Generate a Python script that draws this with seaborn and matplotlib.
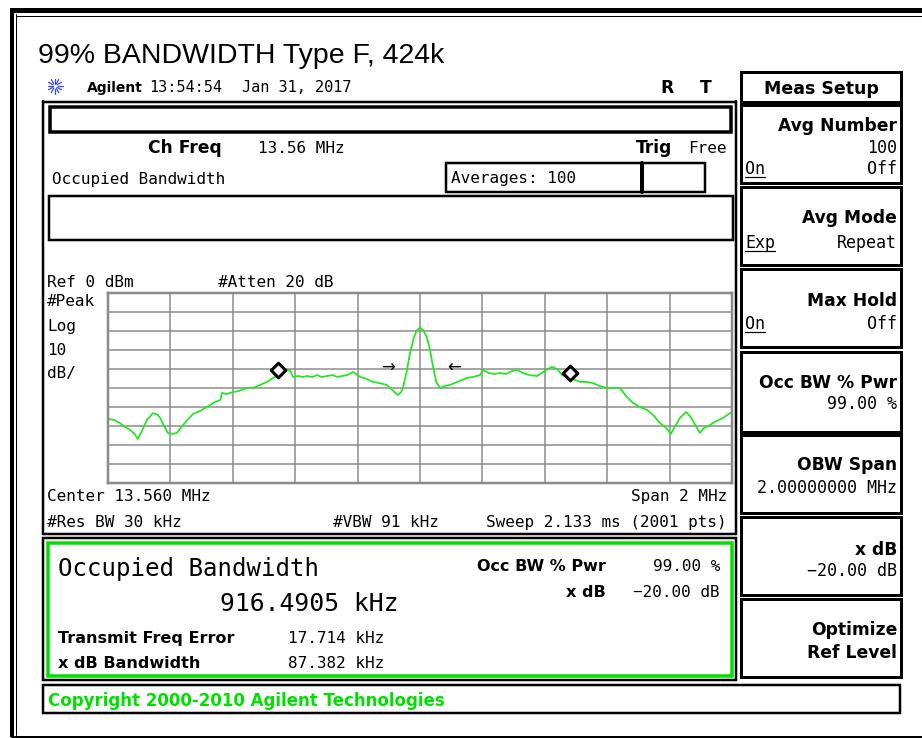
import numpy as np
import seaborn as sns
import matplotlib.pyplot as plt
from matplotlib.patches import Rectangle

# -----------------------------
# Trace
# offset from 13.56 MHz (kHz) and level (dBm)
# -----------------------------
freq_khz = [-1000, -980, -962, -945, -929, -915, -904, -890, -875, -856, -840, -833,
            -820, -808, -795, -779, -760, -745, -728, -705, -683, -657, -640, -635,
            -620, -599, -580, -554, -535, -513, -490, -471, -450, -440, -426, -415,
            -407, -390, -375, -362, -345, -330, -315, -298, -280, -265, -250, -234,
            -215, -200, -192, -170, -151, -130, -106, -96, -85, -71, -60, -54,
            -43, -32, -20, -10, 0, 10, 22, 32, 42, 52, 64, 80,
            96, 120, 151, 170, 192, 202, 220, 240, 256, 275, 295, 311,
            330, 350, 375, 395, 410, 423, 440, 455, 471, 490, 513, 535,
            554, 575, 599, 620, 641, 660, 683, 705, 728, 750, 769, 790,
            804, 820, 833, 853, 865, 875, 897, 910, 929, 950, 971, 985, 1000]
level_dbm = [-66.3, -66.8, -68.4, -70.5, -72.1, -74.2, -76.8, -72.1, -66.8, -63.2, -64.2, -65.8,
             -70.0, -73.7, -74.2, -73.7, -69.5, -66.8, -63.7, -62.1, -60.0, -57.4, -56.3, -52.6,
             -53.2, -52.1, -51.6, -50.0, -50.0, -48.4, -46.8, -44.7, -43.2, -42.1, -40.5, -41.1,
             -44.2, -43.7, -44.2, -43.7, -44.2, -43.2, -44.2, -43.7, -43.2, -44.2, -43.7, -43.2,
             -41.6, -43.2, -44.2, -45.3, -46.8, -47.4, -48.4, -50.0, -51.6, -53.7, -52.1, -49.5,
             -41.6, -31.6, -23.7, -19.5, -18.4, -19.5, -23.2, -30.0, -38.9, -46.8, -50.0, -48.9,
             -48.4, -46.8, -44.7, -44.2, -43.2, -40.5, -42.1, -42.6, -42.1, -42.6, -41.1, -40.5,
             -42.1, -43.2, -43.7, -41.6, -40.0, -38.9, -40.0, -43.2, -44.2, -45.3, -46.8, -46.8,
             -47.4, -48.9, -50.0, -50.0, -50.0, -54.2, -57.9, -60.0, -61.6, -64.7, -68.4, -71.1,
             -74.2, -69.5, -65.8, -62.6, -64.7, -67.4, -73.7, -71.1, -69.5, -67.4, -65.8, -64.2, -62.6]

obw_marker_khz = [-455, 481]
obw_marker_dbm = [-40.5, -42.1]
xdb_arrow_khz = [-104, 109]
xdb_arrow_dbm = [-39.5, -39.5]
xdb_arrow_text = ["\u2192", "\u2190"]

TRACE = "#27e627"
GREEN = "#00e000"
GRIDC = "#8a8a8a"
MONO = "DejaVu Sans Mono"
BOLD = "DejaVu Sans"
PX = 0.72  # points per pixel at 100 dpi

sns.set_style("white")
plt.rcParams["font.family"] = ["DejaVu Sans"]
plt.rcParams["text.color"] = "black"

fig = plt.figure(figsize=(9.22, 7.38), dpi=100)
bg = fig.add_axes([0, 0, 1, 1])
bg.set_xlim(0, 922)
bg.set_ylim(738, 0)
bg.axis("off")


def box(x0, y0, x1, y1, lw=2.5, color="black"):
    bg.add_patch(Rectangle((x0, y0), x1 - x0, y1 - y0, fill=False,
                           lw=lw * PX, ec=color, joinstyle="miter"))


def mono(x, y, s, size=11.5, ha="left", **kw):
    bg.text(x, y, s, family=MONO, fontsize=size, ha=ha, va="baseline", **kw)


def bold(x, y, s, size=12.3, ha="left", **kw):
    bg.text(x, y, s, family=BOLD, fontweight="bold", fontsize=size,
            ha=ha, va="baseline", **kw)


# outer frame
bg.plot([12, 12], [8, 737], color="black", lw=4 * PX, solid_capstyle="butt")
bg.plot([10, 922], [10, 10], color="black", lw=5 * PX, solid_capstyle="butt")
bg.plot([16, 16], [14, 735], color="black", lw=1 * PX)
bg.plot([16, 922], [15.5, 15.5], color="black", lw=1 * PX)
bg.plot([12, 922], [736.5, 736.5], color="black", lw=2 * PX)

# title
bg.text(38, 63, "99% BANDWIDTH Type F, 424k", family="Liberation Sans",
        fontsize=20.5, ha="left", va="baseline")

# agilent logo + status line
cx, cy = 55, 86
for ang in np.linspace(0, 2 * np.pi, 12, endpoint=False):
    bg.plot([cx + 2.5 * np.cos(ang), cx + 7.5 * np.cos(ang)],
            [cy + 2.5 * np.sin(ang), cy + 7.5 * np.sin(ang)],
            color="#3a4cff", lw=1.3 * PX, solid_capstyle="round")
bold(87, 92, "Agilent", size=10)
mono(149, 92, "13:54:54", size=11)
mono(242, 92, "Jan 31, 2017", size=11)
bold(660, 93, "R", size=12.3)
bold(700, 93, "T", size=12.3)

# upper panel
bg.plot([43, 43], [101, 534], color="black", lw=2.5 * PX)
bg.plot([43, 736], [102, 102], color="black", lw=2.5 * PX)
bg.plot([736, 736], [101, 534], color="black", lw=2.5 * PX)
bg.plot([43, 736], [533.5, 533.5], color="black", lw=2.5 * PX)
box(50, 107, 731, 132, lw=3.5)
bold(148, 153, "Ch Freq")
mono(258, 153, "13.56 MHz")
bold(636, 153, "Trig")
mono(727, 153, "Free", ha="right")
mono(52, 184, "Occupied Bandwidth")
box(446, 163, 642, 192, lw=2.5)
box(642, 163, 705, 192, lw=2.5)
bg.plot([642, 642], [163, 192], color="black", lw=4 * PX)
mono(451, 183, "Averages: 100")
box(49, 196, 733, 240, lw=2.5)

mono(47, 287, "Ref 0 dBm")
mono(218, 287, "#Atten 20 dB")
for yy, s in zip([306, 331, 355, 378], ["#Peak", "Log", "10", "dB/"]):
    mono(47, yy, s)
mono(47, 501, "Center 13.560 MHz")
mono(727, 501, "Span 2 MHz", ha="right")
mono(47, 527, "#Res BW 30 kHz")
mono(333, 527, "#VBW 91 kHz")
mono(727, 527, "Sweep 2.133 ms (2001 pts)", ha="right")

# result box
box(43, 538, 736, 680, lw=2.5)
box(48, 543, 732, 676, lw=3.5, color=GREEN)
mono(58, 576, "Occupied Bandwidth", size=17.3)
mono(220, 611, "916.4905 kHz", size=17.8)
bold(606, 571, "Occ BW % Pwr", size=11.5, ha="right")
mono(720, 571, "99.00 %", ha="right")
bold(606, 597, "x dB", size=11.5, ha="right")
mono(720, 597, "\u221220.00 dB", ha="right")
bold(58, 643, "Transmit Freq Error", size=11.5)
mono(288, 643, "17.714 kHz")
bold(58, 668, "x dB Bandwidth", size=11.5)
mono(288, 668, "87.382 kHz")

# copyright bar
box(43, 685, 900, 713, lw=2.5)
bold(48, 706, "Copyright 2000-2010 Agilent Technologies", size=12, color=GREEN)

# softkey column
keys_y = [(72, 102), (105, 183), (187, 265), (269, 347),
          (352, 432), (435, 513), (517, 595), (599, 677)]
for y0, y1 in keys_y:
    box(741, y0, 901, y1, lw=3)
bold(821, 94, "Meas Setup", ha="center", size=12.5)
KX = 897
bold(KX, 131, "Avg Number", ha="right")
mono(KX, 153, "100", size=12, ha="right")
mono(745, 174, "On", size=12)
mono(KX, 174, "Off", size=12, ha="right")
bold(KX, 223, "Avg Mode", ha="right")
mono(745, 248, "Exp", size=12)
mono(KX, 248, "Repeat", size=12, ha="right")
bold(KX, 306, "Max Hold", ha="right")
mono(745, 329, "On", size=12)
mono(KX, 329, "Off", size=12, ha="right")
bold(KX, 388, "Occ BW % Pwr", ha="right")
mono(KX, 409, "99.00 %", size=12, ha="right")
bold(KX, 470, "OBW Span", ha="right")
mono(KX, 493, "2.00000000 MHz", size=12, ha="right")
bold(KX, 555, "x dB", ha="right")
mono(KX, 576, "\u221220.00 dB", size=12, ha="right")
bold(KX, 635, "Optimize", ha="right")
bold(KX, 658, "Ref Level", ha="right")
for x0, x1, yy in [(745, 765, 177), (745, 775, 251), (745, 765, 332)]:
    bg.plot([x0, x1], [yy, yy], color="black", lw=1.2 * PX)

# spectrum graticule
ax = fig.add_axes([108 / 922, (738 - 483) / 738, 624 / 922, 190 / 738])
sns.lineplot(x=freq_khz, y=level_dbm, ax=ax, color=TRACE, lw=1.3, sort=False)
ax.scatter(obw_marker_khz, obw_marker_dbm, marker="D", s=55, facecolor="white",
           edgecolor="black", linewidth=2.2, zorder=5)
for fx, fy, s in zip(xdb_arrow_khz, xdb_arrow_dbm, xdb_arrow_text):
    ax.text(fx, fy, s, ha="center", va="center", fontsize=12, family="DejaVu Sans")
ax.set_xlim(-1000, 1000)
ax.set_ylim(-100, 0)
ax.set_xticks(np.arange(-1000, 1001, 200))
ax.set_yticks(np.arange(-100, 1, 10))
ax.grid(True, color=GRIDC, lw=1.5 * PX)
ax.tick_params(length=0, labelbottom=False, labelleft=False)
ax.set_xlabel("")
ax.set_ylabel("")
for sp in ax.spines.values():
    sp.set_color(GRIDC)
    sp.set_linewidth(2.5 * PX)
ax.set_facecolor("white")

fig.savefig("out.png", dpi=100)
